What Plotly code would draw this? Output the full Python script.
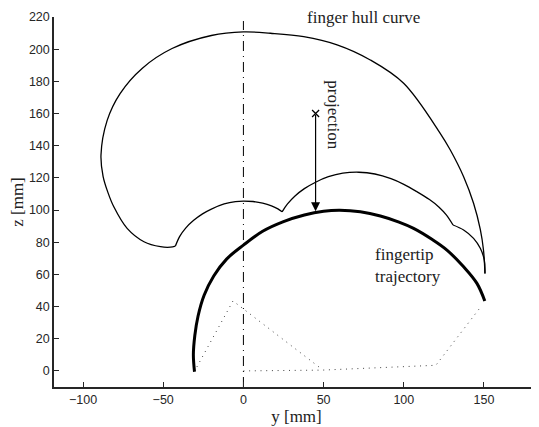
import plotly.graph_objects as go

# ---- data ----
hull_outer_y = [150.6, 149.7, 147.7, 143.5, 137.3, 129.0, 122.7, 99.9, 79.1, 58.4, 37.6, 16.8, 0.0,
                -20.0, -44.5, -63.0, -76.9, -85.0, -88.8, -87.5, -84.5, -80.8, -72.5, -62.0, -51.7, -45.5, -42.4]
hull_outer_z = [60.5, 75.0, 88.0, 104.2, 120.7, 137.3, 147.7, 178.8, 193.3, 202.7, 207.8, 209.9, 210.7,
                208.5, 200.4, 188.2, 172.4, 155.6, 134.2, 121.0, 111.0, 102.0, 88.6, 80.3, 77.2, 76.9, 77.6]

hull_mid1_y = [-42.4, -39.8, -36.0, -31.0, -25.5, -20.0, -12.0, -5.0, 0.0, 6.0, 12.0, 17.5, 21.5, 24.1]
hull_mid1_z = [77.6, 83.5, 88.8, 93.6, 97.6, 100.6, 103.8, 105.3, 105.6, 105.3, 104.3, 102.6, 100.7, 98.9]

hull_mid2_y = [24.1, 27.5, 32.0, 38.0, 45.0, 53.0, 62.0, 72.0, 82.0, 92.0, 100.0, 108.0, 116.0, 122.0,
               126.5, 130.7]
hull_mid2_z = [98.9, 103.8, 108.6, 113.3, 117.3, 120.7, 122.9, 123.5, 122.4, 119.5, 116.0, 111.5, 106.5,
               101.8, 97.0, 90.7]

hull_tip_y = [130.7, 137.3, 143.5, 147.7, 150.2, 150.6]
hull_tip_z = [90.7, 87.6, 82.4, 76.2, 68.9, 60.5]

traj_y = [-30.5, -31.2, -30.3, -28.3, -24.5, -18.5, -10.5, 0.0, 12.0, 25.0, 38.0, 50.0, 60.0, 72.9,
          85.4, 97.0, 106.1, 118.0, 126.9, 137.3, 145.6, 150.5]
traj_z = [-0.5, 10.0, 22.0, 34.0, 47.0, 59.0, 69.5, 78.2, 86.8, 92.8, 96.9, 99.2, 99.8, 98.9,
          96.3, 92.5, 88.6, 81.5, 75.1, 64.7, 54.4, 43.5]

link_a_y = [-29.0, -6.5, 49.0]
link_a_z = [2.5, 43.5, 1.0]

link_b_y = [0.0, 49.0, 120.0, 148.5]
link_b_z = [0.0, 0.5, 3.5, 40.5]

sym_axis_y = [0.0, 0.0]
sym_axis_z = [-10.0, 217.5]

proj_point_y = [45.0]
proj_point_z = [160.0]
proj_target_y = 45.0
proj_target_z = 99.3

x_ticks = [-100, -50, 0, 50, 100, 150]
y_ticks = list(range(0, 221, 20))

SERIF = "Liberation Serif"
SANS = "Liberation Sans"
INK = "black"
TXT = "#222222"

fig = go.Figure()

for yy, zz in [(hull_outer_y, hull_outer_z), (hull_mid1_y, hull_mid1_z),
               (hull_mid2_y, hull_mid2_z), (hull_tip_y, hull_tip_z)]:
    fig.add_trace(go.Scatter(x=yy, y=zz, mode="lines",
                             line=dict(color=INK, width=1.3, shape="spline", smoothing=1.0),
                             hoverinfo="skip", showlegend=False))

fig.add_trace(go.Scatter(x=traj_y, y=traj_z, mode="lines",
                         line=dict(color=INK, width=3, shape="spline", smoothing=1.0),
                         showlegend=False))

for yy, zz in [(link_a_y, link_a_z), (link_b_y, link_b_z)]:
    fig.add_trace(go.Scatter(x=yy, y=zz, mode="lines",
                             line=dict(color="#444444", width=1, dash="1px,4.7px"),
                             showlegend=False))

fig.add_trace(go.Scatter(x=sym_axis_y, y=sym_axis_z, mode="lines",
                         line=dict(color=INK, width=1, dash="10px,5px,1px,5px"),
                         showlegend=False))

fig.add_trace(go.Scatter(x=proj_point_y, y=proj_point_z, mode="markers",
                         marker=dict(symbol="x-thin", size=7, line=dict(width=1.3, color=INK)),
                         showlegend=False))

fig.add_annotation(x=proj_target_y, y=proj_target_z, ax=proj_point_y[0], ay=proj_point_z[0],
                   xref="x", yref="y", axref="x", ayref="y", text="", showarrow=True,
                   arrowhead=2, arrowsize=1.5, arrowwidth=1.2, arrowcolor=INK, standoff=0)

fig.add_annotation(x=74.8, y=219.9, xref="x", yref="y", text="finger hull curve", showarrow=False,
                   font=dict(family=SERIF, size=17, color=TXT), xanchor="center", yanchor="middle")
fig.add_annotation(x=56.4, y=159, xref="x", yref="y", text="projection", showarrow=False, textangle=90,
                   font=dict(family=SERIF, size=17, color=TXT), xanchor="center", yanchor="middle")
fig.add_annotation(x=80.6, y=65.8, xref="x", yref="y", text="fingertip<br>trajectory", showarrow=False,
                   align="left", font=dict(family=SERIF, size=17, color=TXT),
                   xanchor="left", yanchor="middle")

axis_common = dict(showgrid=False, zeroline=False, showline=True, linecolor="#262626", linewidth=1.5,
                   ticks="inside", ticklen=5, tickwidth=1, tickcolor="#262626",
                   tickfont=dict(family=SANS, size=12.5, color="#262626"), mirror=False)

fig.update_xaxes(range=[-118.1, 184.3], tickvals=x_ticks,
                 ticktext=[str(t).replace("-", "\u2212") for t in x_ticks],
                 title=dict(text="y [mm]", font=dict(family=SERIF, size=17, color=TXT), standoff=2),
                 **axis_common)
fig.update_yaxes(range=[-10, 220], tickvals=y_ticks,
                 title=dict(text="z [mm]", font=dict(family=SERIF, size=17, color=TXT), standoff=3),
                 **axis_common)

# page body has an 8px default margin; compensate so the plot area sits where the reference's does
fig.update_layout(width=531, height=419, margin=dict(l=46, r=0, t=9, b=40, autoexpand=False),
                  plot_bgcolor="white", paper_bgcolor="white")

fig.write_html("out.html")
